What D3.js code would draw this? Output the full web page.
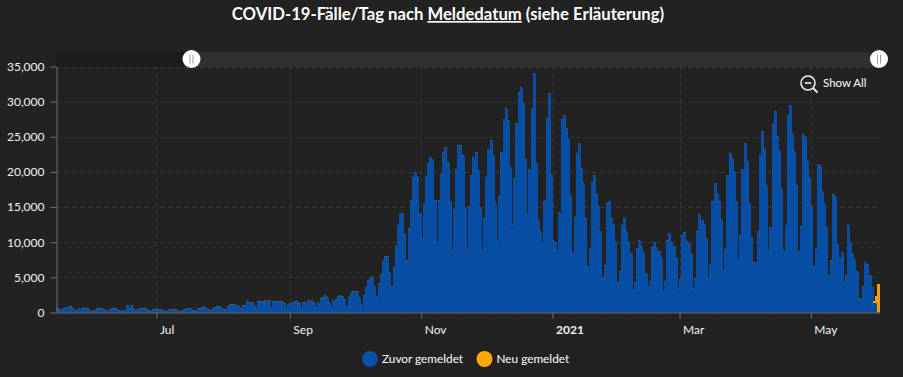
<!DOCTYPE html>
<html>
<head>
<meta charset="utf-8">
<script src="https://cdn.jsdelivr.net/npm/d3@7"></script>
<style>
    html, body { margin: 0; padding: 0; background: #222222; overflow: hidden; }
    text { font-family: Lato, "Noto Sans", sans-serif; fill: #ffffff; }
    .grid line { stroke: #383838; stroke-dasharray: 4 4; }
    .axis text { font-size: 12px; fill: #f2f2f2; }
    .axis path, .axis line { stroke: #6b6f73; }
    .bar, .cap, .neu { shape-rendering: crispEdges; }
</style>
</head>
<body>
<div id="chart"></div>
<script>
// first reporting day, every value below is one day from here on
const startDate = new Date(Date.UTC(2020, 4, 15));
const endDate = new Date(Date.UTC(2021, 5, 1));

// Zuvor gemeldet: 15/16 May, then one row per week (Sun..Sat), last row Sun..Tue
const zuvorGemeldet = [
    750, 600,
    350, 400, 600, 700, 800, 850, 500,
    300, 350, 500, 600, 700, 600, 500,
    150, 200, 300, 500, 500, 600, 450,
    300, 250, 400, 500, 600, 500, 350,
    200, 350, 300, 1000, 600, 1000, 500,
    350, 400, 500, 550, 550, 500, 300,
    200, 400, 450, 450, 450, 400, 300,
    150, 300, 400, 450, 450, 400, 250,
    150, 300, 450, 550, 550, 500, 300,
    200, 500, 600, 700, 850, 600, 400,
    300, 600, 750, 800, 800, 700, 450,
    400, 800, 1100, 1200, 1200, 1050, 800,
    500, 1050, 1050, 1550, 1450, 1450, 950,
    600, 1600, 1600, 1600, 1700, 1600, 1750,
    500, 1500, 1500, 1600, 1600, 1550, 1300,
    500, 1100, 1300, 1400, 1550, 1550, 1300,
    600, 1400, 1400, 1700, 1600, 1700, 1300,
    700, 1400, 2000, 2100, 2400, 2100, 1400,
    700, 1700, 1850, 2300, 2400, 2300, 1850,
    850, 2100, 2700, 3000, 3000, 3000, 2100,
    1100, 2400, 3600, 4600, 4800, 5100, 3700,
    2300, 4100, 5400, 7300, 8000, 8000, 5700,
    3700, 6400, 9400, 12400, 13900, 14100, 11100,
    7400, 11900, 16000, 19200, 19900, 19300, 14100,
    10500, 15300, 19300, 21200, 22100, 21700, 16000,
    10000, 16000, 19600, 22800, 23500, 21300, 15800,
    8800, 14700, 20300, 23800, 23800, 22300, 14800,
    8800, 15100, 19500, 22000, 22800, 20200, 14900,
    8800, 13400, 19200, 23200, 24500, 22300, 15600,
    10200, 16500, 22800, 27500, 29000, 27300, 20600,
    12500, 19000, 26900, 31300, 32000, 29700, 21800,
    13900, 20300, 29000, 34000, 21200, 13200, 11500,
    9800, 15800, 27600, 31200, 19600, 10200, 10000,
    8800, 14200, 27500, 28000, 26200, 24600, 16600,
    8500, 13500, 22600, 24000, 20500, 18300, 13400,
    6500, 9100, 18500, 19500, 16800, 15100, 11500,
    5000, 6700, 15500, 15800, 13400, 12500, 10000,
    4300, 5800, 12400, 13400, 11500, 10000, 8400,
    3100, 4300, 9100, 10200, 9400, 8500, 5500,
    3700, 4400, 9200, 10000, 9200, 8700, 7800,
    3000, 4400, 10200, 11200, 10000, 9400, 7700,
    3400, 4700, 11000, 11400, 10100, 9700, 8300,
    3400, 4800, 11500, 13900, 13100, 12500, 10500,
    4800, 6800, 15800, 18400, 16800, 15800, 13200,
    6000, 9000, 19500, 22600, 21900, 20000, 15800,
    7500, 11000, 20300, 24000, 21500, 15500, 10700,
    7100, 7100, 11500, 22400, 25800, 23300, 18000,
    8800, 12100, 26700, 28600, 25000, 23000, 17600,
    8800, 12400, 28000, 29400, 25500, 22900, 18100,
    8700, 12200, 25300, 25000, 21500, 19200, 15100,
    6600, 9100, 21000, 20900, 17200, 15500, 12100,
    5300, 7400, 16800, 16500, 9700, 7700, 8500,
    4300, 5300, 12400, 9800, 8400, 7500, 5800,
    2000, 1900, 3650, 7100, 6900, 5200, 3600,
    1400, 1300, 0
];

// Neu gemeldet: only the last three days (30 May .. 1 Jun)
const neuGemeldet = [200, 1000, 4000];

const yTicks = [0, 5000, 10000, 15000, 20000, 25000, 30000, 35000];
const xTickDates = [
    new Date(Date.UTC(2020, 6, 1)),
    new Date(Date.UTC(2020, 8, 1)),
    new Date(Date.UTC(2020, 10, 1)),
    new Date(Date.UTC(2021, 0, 1)),
    new Date(Date.UTC(2021, 2, 1)),
    new Date(Date.UTC(2021, 4, 1))
];
const xTickLabels = ["Jul", "Sep", "Nov", "2021", "Mar", "May"];
const legendLabels = ["Zuvor gemeldet", "Neu gemeldet"];

const blue = "#054ea3";
const orange = "#efa00c";

const width = 903, height = 377;
const plotLeft = 56.5, plotRight = 880, plotTop = 66.5, plotBottom = 312.5;

const svg = d3.select("#chart").append("svg")
    .attr("width", width)
    .attr("height", height)
    .style("display", "block");

// Scales
const x = d3.scaleUtc().domain([startDate, endDate]).range([55.2, 877.6]);
const y = d3.scaleLinear().domain([0, 35000]).range([plotBottom, plotTop]);
const dayWidth = x(new Date(startDate.getTime() + 864e5)) - x(startDate);
const barOffset = 0.6;

const days = zuvorGemeldet.map((v, i) => {
    let neu = i >= zuvorGemeldet.length - neuGemeldet.length
        ? neuGemeldet[i - (zuvorGemeldet.length - neuGemeldet.length)] : 0;
    return {date: new Date(startDate.getTime() + i * 864e5), zuvor: v, neu: neu};
});

svg.append("defs").append("clipPath").attr("id", "plot-clip")
    .append("rect")
    .attr("x", plotLeft).attr("y", 0)
    .attr("width", plotRight - plotLeft).attr("height", plotBottom);

// Grid
const gridY = svg.append("g").attr("class", "grid");
gridY.selectAll("line").data(yTicks.slice(1)).enter().append("line")
    .attr("x1", plotLeft).attr("x2", plotRight)
    .attr("y1", d => Math.round(y(d)) + 0.5).attr("y2", d => Math.round(y(d)) + 0.5);
const gridX = svg.append("g").attr("class", "grid");
gridX.selectAll("line").data(xTickDates).enter().append("line")
    .attr("x1", d => Math.round(x(d)) + 0.5).attr("x2", d => Math.round(x(d)) + 0.5)
    .attr("y1", plotTop).attr("y2", plotBottom);

// Bars, one px wider than a day so a low Sunday only shows as a thin gap
const bars = svg.append("g").attr("clip-path", "url(#plot-clip)");
bars.selectAll(".bar").data(days).enter().append("rect")
    .attr("class", "bar")
    .attr("x", d => Math.round(x(d.date) + barOffset - dayWidth / 2))
    .attr("width", 3)
    .attr("y", d => y(d.zuvor))
    .attr("height", d => y(0) - y(d.zuvor))
    .attr("fill", blue);
bars.selectAll(".cap").data(days.filter(d => d.zuvor > 0)).enter().append("rect")
    .attr("class", "cap")
    .attr("x", d => Math.round(x(d.date) + barOffset - dayWidth / 2))
    .attr("width", 2)
    .attr("y", d => y(d.zuvor) - 0.5)
    .attr("height", 1)
    .attr("fill", "#3f5a75");
bars.selectAll(".neu").data(days.filter(d => d.neu > 0)).enter().append("rect")
    .attr("class", "neu")
    .attr("x", d => Math.round(x(d.date) + barOffset - dayWidth / 2))
    .attr("width", d => d.neu > 3000 ? 3 : 2)
    .attr("y", d => y(d.zuvor + d.neu))
    .attr("height", d => y(d.zuvor) - y(d.zuvor + d.neu))
    .attr("fill", orange);

// Axes
const yAxis = d3.axisLeft(y)
    .tickValues(yTicks)
    .tickFormat(d3.format(","))
    .tickSize(6)
    .tickPadding(6);
const yAxisG = svg.append("g").attr("class", "axis")
    .attr("transform", `translate(${plotLeft},0)`)
    .call(yAxis);
yAxisG.select(".domain").attr("d", `M0.5,${plotTop}V${plotBottom}`);

const xAxis = d3.axisBottom(x)
    .tickValues(xTickDates)
    .tickFormat((d, i) => xTickLabels[i])
    .tickSize(6)
    .tickPadding(7);
const xAxisG = svg.append("g").attr("class", "axis")
    .attr("transform", `translate(0,${plotBottom})`)
    .call(xAxis);
xAxisG.select(".domain").attr("d", `M${plotLeft},0.5H${plotRight}`);
xAxisG.selectAll(".tick text")
    .attr("text-anchor", "start")
    .attr("dx", 3)
    .style("font-weight", (d, i) => xTickLabels[i] === "2021" ? 700 : 400);

// Title
const title = svg.append("text")
    .attr("x", 448)
    .attr("y", 20)
    .attr("text-anchor", "middle")
    .style("font-size", "16.7px")
    .style("font-weight", 700);
title.append("tspan").text("COVID-19-Fälle/Tag nach ");
title.append("tspan").text("Meldedatum").style("text-decoration", "underline");
title.append("tspan").text(" (siehe Erläuterung)");

// Range slider
const sliderLeft = 191.5, sliderRight = 879;
svg.append("rect").attr("x", plotLeft - 0.5).attr("y", 52)
    .attr("width", sliderLeft - plotLeft).attr("height", 15).attr("fill", "#1c1c1c");
svg.append("rect").attr("x", sliderLeft).attr("y", 52)
    .attr("width", plotRight - sliderLeft).attr("height", 15).attr("fill", "#303030");
[sliderLeft, sliderRight].forEach(cx => {
    svg.append("circle").attr("cx", cx).attr("cy", 59).attr("r", 9).attr("fill", "#ffffff");
    [-1.5, 1.5].forEach(dx => {
        svg.append("line")
            .attr("x1", cx + dx).attr("x2", cx + dx)
            .attr("y1", 54.5).attr("y2", 63.5)
            .attr("stroke", "#9a9a9a");
    });
});

// Show All button
const zoomIcon = svg.append("g").attr("transform", "translate(808,83)")
    .attr("fill", "none").attr("stroke", "#f0f0f0");
zoomIcon.append("circle").attr("r", 7).attr("stroke-width", 1.6);
zoomIcon.append("line").attr("x1", -3.2).attr("x2", 3.2).attr("stroke-width", 1.6);
zoomIcon.append("line").attr("x1", 5).attr("y1", 5).attr("x2", 9.5).attr("y2", 9.5).attr("stroke-width", 1.8);
svg.append("text").attr("x", 823).attr("y", 87)
    .style("font-size", "11.5px").text("Show All");

// Legend
const legendX = [370, 484.5];
const legendColors = ["#0a50aa", "#ffa800"];
legendLabels.forEach((label, i) => {
    svg.append("circle").attr("cx", legendX[i]).attr("cy", 359).attr("r", 8).attr("fill", legendColors[i]);
    svg.append("text").attr("x", legendX[i] + 12).attr("y", 363)
        .style("font-size", "11.8px").text(label);
});
</script>
</body>
</html>
